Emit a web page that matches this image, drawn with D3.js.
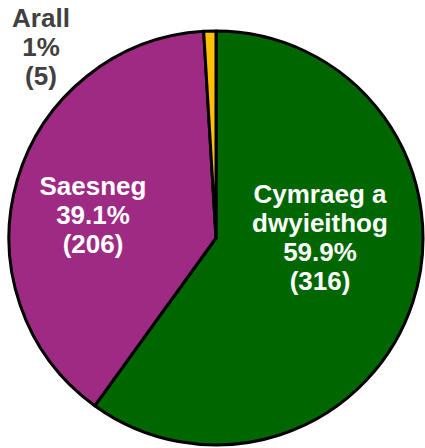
<!DOCTYPE html>
<html>
<head>
<meta charset="utf-8">
<script src="https://cdn.jsdelivr.net/npm/d3@7"></script>
<style>
    html, body { margin: 0; padding: 0; background: #fff; }
    svg { display: block; }
    text { font-family: "Liberation Sans", Arial, sans-serif; font-weight: bold; font-size: 26px; }
</style>
</head>
<body>
<svg id="chart"></svg>
<script>
// Chart data
const categories = ['Cymraeg a dwyieithog', 'Saesneg', 'Arall'];
const counts = [316, 206, 5];
const percentLabels = ['59.9%', '39.1%', '1%'];
const nameLines = [['Cymraeg a', 'dwyieithog'], ['Saesneg'], ['Arall']];
const colors = ['#006600', '#9e2a84', '#ffc000'];

const width = 425, height = 448;
const cx = 216, cy = 238, radius = 207;

const svg = d3.select('#chart')
    .attr('width', width)
    .attr('height', height);

const pie = d3.pie().sort(null).value(d => d);
const arc = d3.arc().innerRadius(0).outerRadius(radius);

const g = svg.append('g').attr('transform', `translate(${cx}, ${cy})`);

g.selectAll('path')
    .data(pie(counts))
    .enter()
    .append('path')
    .attr('d', arc)
    .attr('fill', (d, i) => colors[i])
    .attr('stroke', '#000')
    .attr('stroke-width', 3)
    .attr('stroke-linejoin', 'round');

// label placement (x centre, first baseline) and text colour, per slice
const labelPos = [
    { x: 320, y: 203, fill: '#ffffff' },
    { x: 93, y: 195, fill: '#ffffff' },
    { x: 41, y: 27, fill: '#404040' }
];
const lineHeight = 29;

categories.forEach((c, i) => {
    const lines = nameLines[i].concat([percentLabels[i], `(${counts[i]})`]);
    const t = svg.append('text')
        .attr('text-anchor', 'middle')
        .attr('fill', labelPos[i].fill);
    lines.forEach((l, j) => {
        t.append('tspan')
            .attr('x', labelPos[i].x)
            .attr('y', labelPos[i].y + j * lineHeight)
            .text(l);
    });
});
</script>
</body>
</html>
